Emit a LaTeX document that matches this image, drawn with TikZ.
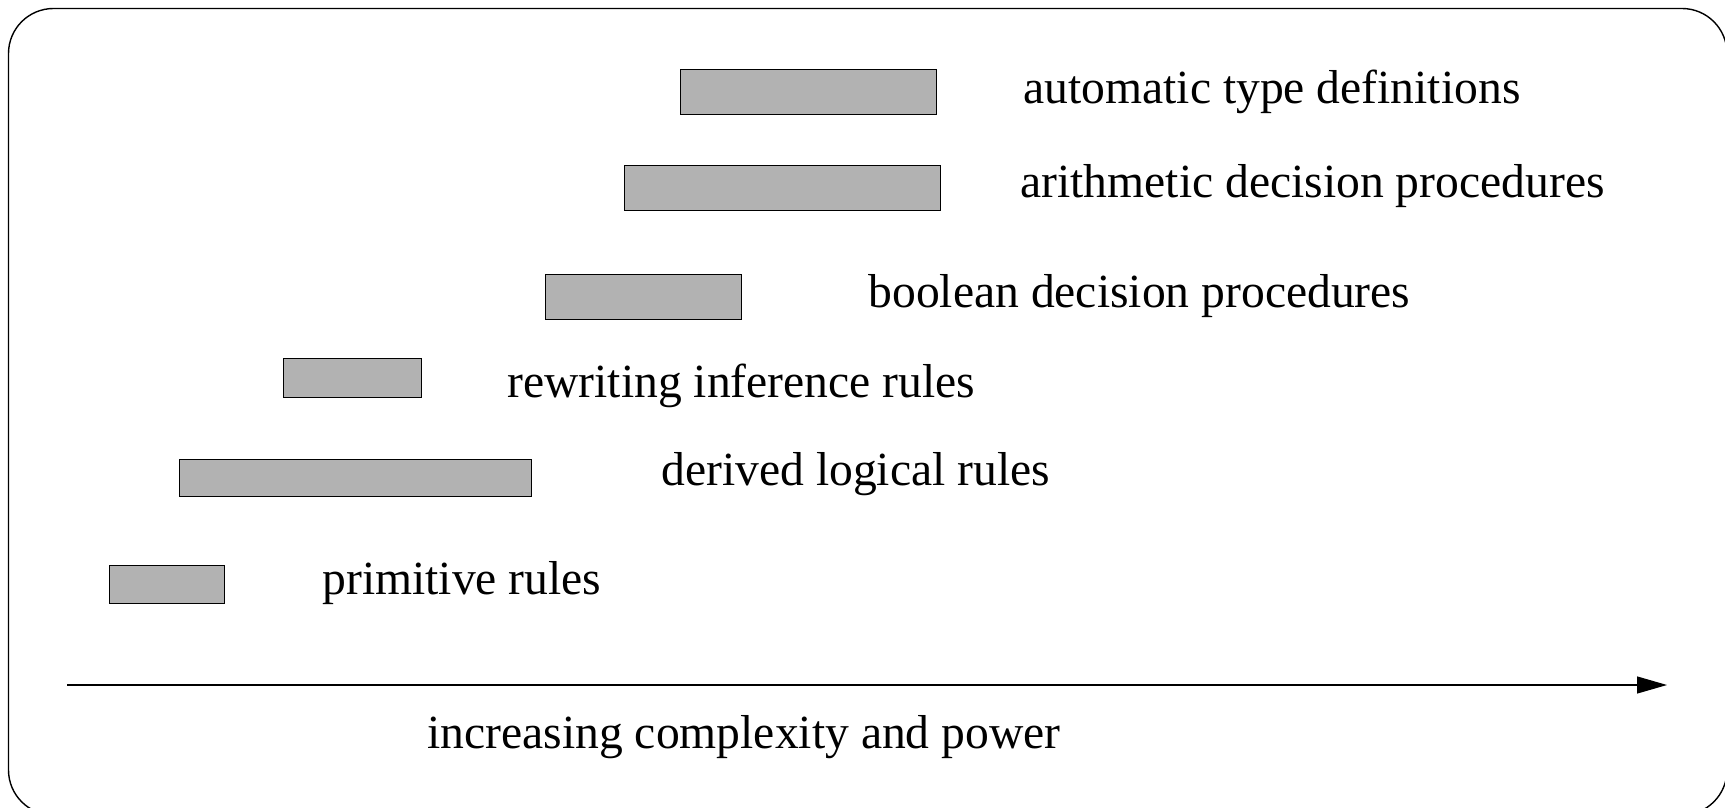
\documentclass[tikz,border=0pt]{standalone}
\usepackage{fontspec}
\setmainfont{Liberation Serif}
\usetikzlibrary{arrows.meta}
\begin{document}
\begin{tikzpicture}[x=0.5pt,y=-0.5pt,
  bar/.style={draw=black,fill=black!30,line width=0.5pt,inner sep=0pt,anchor=north west},
  lbl/.style={inner sep=0pt,anchor=base west,font=\fontsize{23.8}{28}\selectfont}]
\useasboundingbox (0,0) rectangle (1725,808);
\clip (0,0) rectangle (1725,808);
\draw[line width=0.7pt,rounded corners=22.5pt] (8.5,8.5) rectangle (1727,815);
\node[bar,minimum width=128pt,minimum height=22.5pt] (b1) at (680,69) {};
\node[lbl] (t1) at (1023,104) {automatic type definitions};
\node[bar,minimum width=158pt,minimum height=22.5pt] (b2) at (624,165) {};
\node[lbl] (t2) at (1020,198) {arithmetic decision procedures};
\node[bar,minimum width=98pt,minimum height=22.5pt] (b3) at (545,274) {};
\node[lbl] (t3) at (868,307) {boolean decision procedures};
\node[bar,minimum width=69pt,minimum height=19.5pt] (b4) at (283,358) {};
\node[lbl] (t4) at (507,397) {rewriting inference rules};
\node[bar,minimum width=176pt,minimum height=18.5pt] (b5) at (179,459) {};
\node[lbl] (t5) at (661,485) {derived logical rules};
\node[bar,minimum width=57.5pt,minimum height=19pt] (b6) at (109,565) {};
\node[lbl] (t6) at (322,594) {primitive rules};
\coordinate (a0) at (67,685);
\coordinate (a1) at (1667,685);
\draw[line width=0.6pt,-{Triangle[length=15pt,width=8.5pt]}] (a0) -- (a1);
\node[lbl] (t7) at (427,748) {increasing complexity and power};
\end{tikzpicture}
\end{document}
